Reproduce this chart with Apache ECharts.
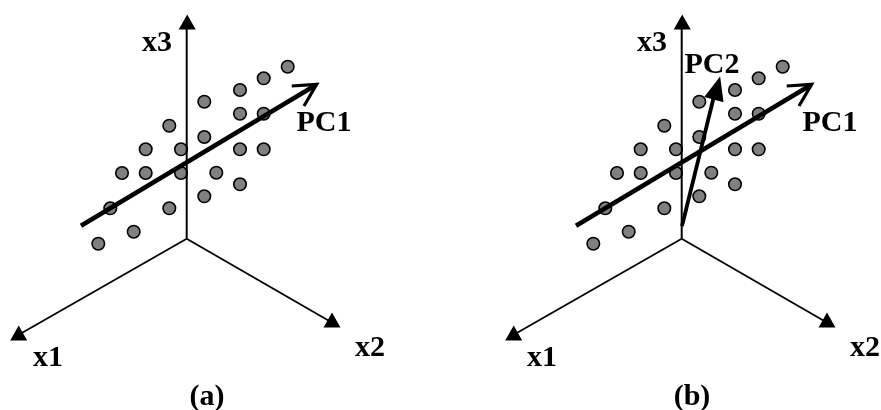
<!DOCTYPE html>
<html>
<head>
<meta charset="utf-8">
<style>
  html, body { margin: 0; padding: 0; background: #fff; }
  #chart { width: 881px; height: 410px; }
</style>
<script src="https://cdn.jsdelivr.net/npm/echarts@6/dist/echarts.min.js"></script>
</head>
<body>
<div id="chart"></div>
<script>
// the cloud of points, same in both panels
const points = [
  [287.7, 66.7], [263.7, 78.3], [240, 90], [204.3, 101.7], [240, 113.7], [263.7, 113.7],
  [169.3, 125.7], [204.3, 137], [145.7, 149.3], [181, 149.3], [240, 149.3], [263.7, 149.3],
  [122, 173], [145.7, 173], [181, 173], [216.3, 172.7], [240, 184.3], [204.3, 196.3],
  [110.3, 208.3], [169.3, 208.3], [133.7, 231.7], [98.3, 243.7]
];
const axisX1 = [[186.7, 238.7], [20, 334]];
const axisX2 = [[186.7, 238.7], [331, 322]];
const axisX3 = [[186.7, 238.7], [186.7, 26]];
const axisHeads = [[18.7, 333], [332, 320], [187.2, 22]];
const pc1Line = [[81, 225.7], [315, 85.5]];
const pc1Head = [[291.7, 86], [316.7, 84.3], [304, 106]];
const pc2Line = [[187, 226], [221, 88]];
const pc2Head = [[222, 88]];
const labelsA = [
  ["x3", 157, 43], ["x1", 48, 358], ["x2", 370, 348], ["PC1", 324, 123], ["(a)", 207, 397]
];
const labelsB = [
  ["x3", 157, 43], ["x1", 47, 358], ["x2", 370, 348], ["PC1", 335, 123], ["PC2", 217, 65], ["(b)", 197, 397]
];

const chart = echarts.init(document.getElementById("chart"));

function lineSeries(panel, data, width) {
  return {
    type: "line",
    xAxisIndex: panel,
    yAxisIndex: panel,
    data: data,
    symbol: "none",
    silent: true,
    clip: false,
    z: 5,
    lineStyle: { color: "#000", width: width, cap: "butt", join: "miter", opacity: 1 }
  };
}

function panelSeries(panel, labels) {
  return [
    lineSeries(panel, axisX1, 1.8),
    lineSeries(panel, axisX2, 1.8),
    lineSeries(panel, axisX3, 2),
    {
      type: "scatter",
      xAxisIndex: panel,
      yAxisIndex: panel,
      data: points,
      symbol: "circle",
      symbolSize: 12.5,
      silent: true,
      z: 4,
      itemStyle: { color: "#808080", borderColor: "#000", borderWidth: 1.6, opacity: 1 }
    },
    {
      type: "scatter",
      xAxisIndex: panel,
      yAxisIndex: panel,
      data: axisHeads,
      symbol: "triangle",
      symbolSize: [17, 15],
      silent: true,
      clip: false,
      z: 5,
      itemStyle: { color: "#000", opacity: 1 }
    },
    Object.assign(lineSeries(panel, pc1Line, 4.5), { z: 6 }),
    Object.assign(lineSeries(panel, pc1Head, 3.2), { z: 6 }),
    {
      type: "scatter",
      xAxisIndex: panel,
      yAxisIndex: panel,
      data: labels.map(function (l) { return { name: l[0], value: [l[1], l[2]] }; }),
      symbolSize: 1,
      silent: true,
      clip: false,
      z: 8,
      itemStyle: { color: "#fff", opacity: 0 },
      label: {
        show: true,
        position: "inside",
        formatter: "{b}",
        color: "#000",
        opacity: 1,
        textBorderWidth: 0,
        fontFamily: "Liberation Serif",
        fontWeight: "bold",
        fontSize: 30
      }
    }
  ];
}

const pc2Series = [
  Object.assign(lineSeries(1, pc2Line, 3.8), { z: 6 }),
  {
    type: "scatter",
    xAxisIndex: 1,
    yAxisIndex: 1,
    data: pc2Head,
    symbol: "triangle",
    symbolSize: [20, 24],
    symbolRotate: -15,
    silent: true,
    z: 6,
    itemStyle: { color: "#000", opacity: 1 }
  }
];

chart.setOption({
  animation: false,
  backgroundColor: "#fff",
  grid: [
    { left: 0, top: 0, width: 440, height: 410 },
    { left: 495, top: 0, width: 386, height: 410 }
  ],
  xAxis: [
    { type: "value", gridIndex: 0, min: 0, max: 440, show: false },
    { type: "value", gridIndex: 1, min: 0, max: 386, show: false }
  ],
  yAxis: [
    { type: "value", gridIndex: 0, min: 0, max: 410, inverse: true, show: false },
    { type: "value", gridIndex: 1, min: 0, max: 410, inverse: true, show: false }
  ],
  series: panelSeries(0, labelsA).concat(panelSeries(1, labelsB), pc2Series)
});
</script>
</body>
</html>
